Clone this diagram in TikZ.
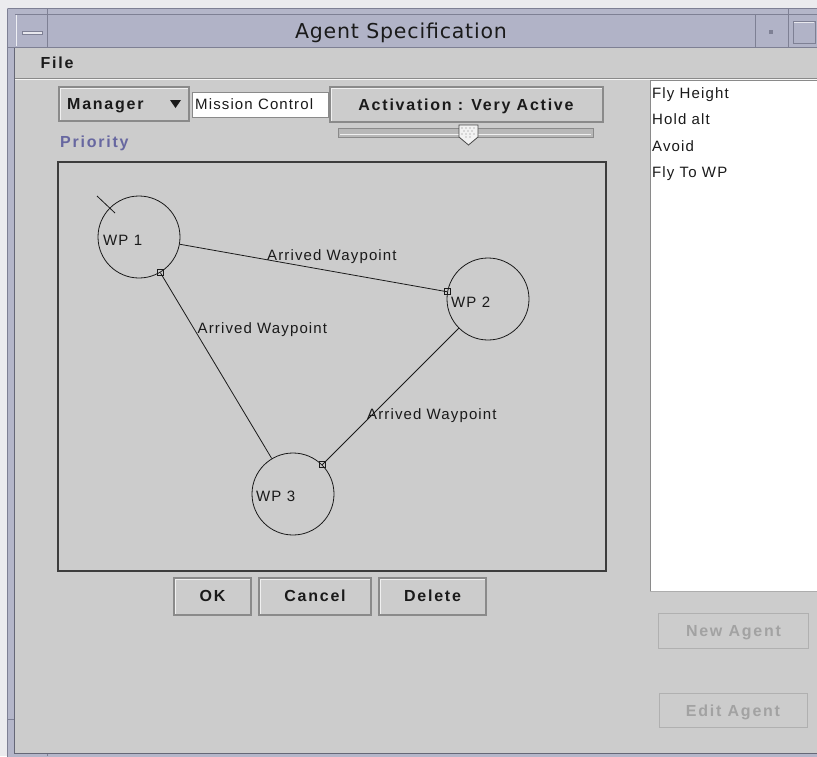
\documentclass[tikz,border=0pt]{standalone}
\usepackage{fontspec}
\setmainfont{Liberation Sans}
\newfontfamily\uifont[LetterSpace=7.5]{Liberation Sans}
\newfontfamily\uibold[LetterSpace=11]{Liberation Sans}
\newfontfamily\titlefont[LetterSpace=4]{DejaVu Sans}
\usetikzlibrary{arrows.meta}
\definecolor{panel}{HTML}{CCCCCC}
\definecolor{frame}{HTML}{B4B6C9}
\definecolor{framedark}{HTML}{7E8094}
\definecolor{titlebg}{HTML}{B1B3C7}
\definecolor{outside}{HTML}{EBEBEE}
\definecolor{btnedge}{HTML}{8A8A8A}
\definecolor{prio}{HTML}{6767A0}
\definecolor{disabled}{HTML}{A2A2A2}
\definecolor{ink}{HTML}{1A1A1A}
\tikzset{
  lbl/.style={font=\uifont\fontsize{15}{17}\selectfont, inner sep=0pt, text=ink, anchor=base west},
  bld/.style={font=\uibold\bfseries\fontsize{16}{19}\selectfont, inner sep=0pt, text=ink, anchor=base},
  wp/.style={circle, draw=ink, minimum size=82pt, inner sep=0pt, line width=0.8pt},
  wpedge/.style={draw=ink, line width=0.8pt},
  sqmark/.style={draw=ink, line width=0.8pt, rectangle, minimum size=6pt, inner sep=0pt, sloped=false},
  btn/.style={draw=btnedge, fill=panel, line width=1.2pt, inner sep=0pt},
  dbtn/.style={draw=disabled!85!white, fill=panel, line width=1pt, inner sep=0pt},
}
\begin{document}
\begin{tikzpicture}[x=1pt,y=-1pt]
\useasboundingbox (0,0) rectangle (817,756);
% outside and frame
\fill[outside] (0,0) rectangle (817,756);
\fill[frame] (7,8) rectangle (830,770);
\draw[framedark, line width=1pt] (7.5,8.5) -- (830,8.5);
\draw[framedark, line width=1pt] (7.5,8.5) -- (7.5,770);
% title bar
\fill[titlebg] (15,14) rectangle (830,47);
\draw[framedark, line width=1pt] (15,14) -- (830,14);
\draw[framedark, line width=1pt] (15,47.5) -- (830,47.5);
\draw[framedark, line width=1pt] (47.5,8) -- (47.5,47);
\draw[framedark, line width=1pt] (755.5,14) -- (755.5,47);
\draw[framedark, line width=1pt] (788.5,8) -- (788.5,47);
\draw[white!80!titlebg, line width=1pt] (16,15) -- (16,46);
\fill[white!70!titlebg] (22,31) rectangle (42,34);
\draw[framedark] (22,31) rectangle (42,34);
\fill[framedark] (769,30) rectangle (773,34);
\draw[framedark, line width=1pt] (793,21) rectangle (815,43);
\draw[white!70!titlebg, line width=1pt] (794,22) -- (814,22);
\node[font=\titlefont\fontsize{20.5}{24}\selectfont, text=ink, inner sep=0pt, anchor=base] (title) at (401,38) {Agent Specification};
% left frame notches
\draw[framedark, line width=1pt] (7,47.5) -- (15,47.5);
\draw[framedark, line width=1pt] (7,719.5) -- (15,719.5);
\draw[framedark, line width=1pt] (47.5,753) -- (47.5,756);
% panel
\fill[panel] (15,48) rectangle (830,753);
\draw[framedark!80!black, line width=1.5pt] (14.5,48) -- (14.5,753);
\draw[framedark!80!black, line width=1pt] (14,753.5) -- (830,753.5);
% menu bar
\node[bld] (file) at (57,68.5) {File};
\draw[btnedge, line width=1pt] (15,78.5) -- (830,78.5);
\draw[white!80!panel, line width=1pt] (15,79.5) -- (830,79.5);
% manager combo
\node[btn, minimum width=130pt, minimum height=34pt] (manager) at (124,104) {};
\draw[white!70!panel, line width=1pt] (60,120) -- (60,88) -- (188,88);
\node[bld, anchor=base west] (managertxt) at (67,109.5) {Manager};
\fill[ink] (170,100) -- (181,100) -- (175.5,108) -- cycle;
% mission field
\node[draw=btnedge, fill=white, line width=1pt, minimum width=136pt, minimum height=25pt, inner sep=0pt] (mission) at (260,104.5) {};
\node[lbl] (missiontxt) at (195,109.5) {Mission Control};
% activation button
\node[btn, minimum width=273pt, minimum height=35pt] (activation) at (466.5,104.5) {};
\draw[white!70!panel, line width=1pt] (331,121) -- (331,88) -- (602,88);
\node[bld] (activationtxt) at (466,110.5) {Activation : Very Active};
% slider
\node[draw=btnedge, fill=panel!90!black, line width=1pt, minimum width=255pt, minimum height=9pt, inner sep=0pt] (track) at (465.5,132.5) {};
\draw[white!70!panel, line width=1pt] (340,134.5) -- (591,134.5);
\filldraw[fill=white!75!panel, draw=ink!80!white, line width=0.8pt] (459,125) -- (478,125) -- (478,137) -- (468.5,145) -- (459,137) -- cycle;
\foreach \dx/\dy in {462/128,466/128,470/128,474/128,464/131,468/131,472/131,462/134,466/134,470/134,474/134,466/137,470/137}
  \fill[ink!55!white] (\dx,\dy) circle (0.55pt);
% priority
\node[bld, anchor=base west, text=prio] (priority) at (60,147) {Priority};
% graph area
\node[draw=ink!85!white, line width=1.6pt, minimum width=548pt, minimum height=409pt, inner sep=0pt] (canvas) at (332,366.5) {};
\node[wp] (wp1) at (139,237) {};
\node[wp] (wp2) at (488,299) {};
\node[wp] (wp3) at (293,494) {};
\coordinate (startA) at (97,196);
\coordinate (startB) at (115,213);
\draw[ink, line width=0.8pt] (startA) -- (startB);
\node[lbl] (wp1txt) at (103,245) {WP 1};
\node[lbl] (wp2txt) at (451,307) {WP 2};
\node[lbl] (wp3txt) at (256,501) {WP 3};
\draw[wpedge] (wp1) -- (wp2) node[sqmark, pos=1] (m12) {};
\draw[wpedge] (wp2) -- (wp3) node[sqmark, pos=1] (m23) {};
\draw[wpedge] (wp3) -- (wp1) node[sqmark, pos=1] (m31) {};
\node[lbl] (lab12) at (267,260) {Arrived Waypoint};
\node[lbl] (lab31) at (197.5,333) {Arrived Waypoint};
\node[lbl] (lab23) at (367,419) {Arrived Waypoint};
% bottom buttons
\node[btn, minimum width=77pt, minimum height=37pt] (ok) at (212.5,596.5) {};
\node[btn, minimum width=112pt, minimum height=37pt] (cancel) at (315,596.5) {};
\node[btn, minimum width=107pt, minimum height=37pt] (delete) at (432.5,596.5) {};
\draw[white!70!panel, line width=1pt] (175,614) -- (175,579) -- (250,579);
\draw[white!70!panel, line width=1pt] (260,614) -- (260,579) -- (370,579);
\draw[white!70!panel, line width=1pt] (380,614) -- (380,579) -- (485,579);
\node[bld] (oktxt) at (212.5,601.5) {OK};
\node[bld] (canceltxt) at (315,601.5) {Cancel};
\node[bld] (deletetxt) at (432.5,601.5) {Delete};
% list
\fill[white] (650,80) rectangle (830,591);
\draw[btnedge, line width=1pt] (650.5,591) -- (650.5,80.5) -- (830,80.5);
\draw[btnedge!70!white, line width=1pt] (650,591) -- (830,591);
\node[lbl] (item1) at (652,98.7) {Fly Height};
\node[lbl] (item2) at (652,124.7) {Hold alt};
\node[lbl] (item3) at (652,151) {Avoid};
\node[lbl] (item4) at (652,177) {Fly To WP};
% disabled buttons
\node[dbtn, minimum width=150pt, minimum height=35pt] (newagent) at (733,630.5) {};
\node[dbtn, minimum width=148pt, minimum height=34pt] (editagent) at (733,710) {};
\node[bld, text=disabled] (newagenttxt) at (733.5,636.5) {New Agent};
\node[bld, text=disabled] (editagenttxt) at (733,716) {Edit Agent};
\end{tikzpicture}
\end{document}
